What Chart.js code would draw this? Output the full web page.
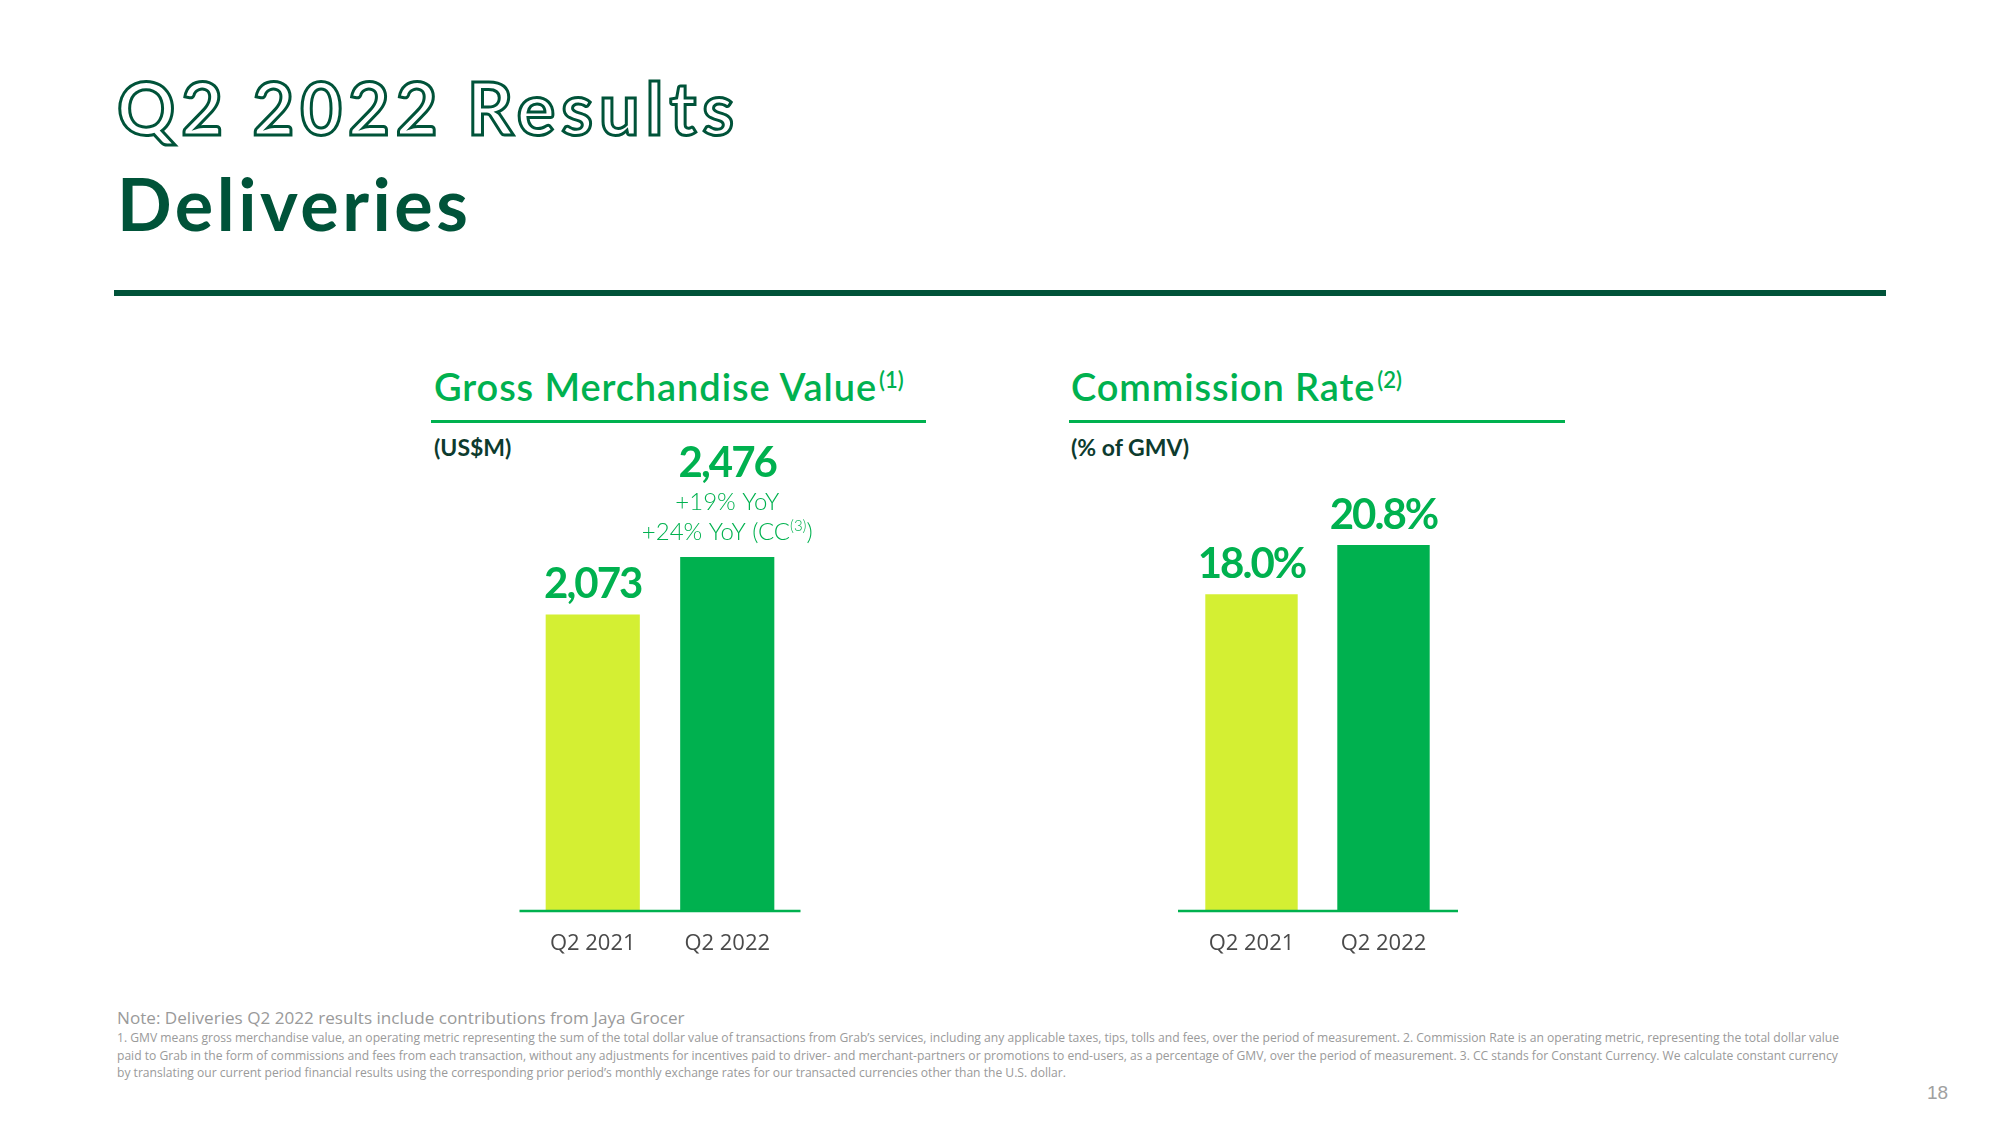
<!DOCTYPE html>
<html>
<head>
<meta charset="utf-8">
<script src="https://cdn.jsdelivr.net/npm/chart.js@4.4.1/dist/chart.umd.min.js"></script>
<style>
  html, body { margin:0; padding:0; background:#fff; }
  body { width:2000px; height:1125px; position:relative; overflow:hidden; font-family: Lato, "Open Sans", sans-serif; }
  .abs { position:absolute; white-space:nowrap; line-height:1; }
  #t1 { left:117px; top:71px; font-size:72px; font-weight:700; color:#fff; -webkit-text-stroke:3px #005339; letter-spacing:6px; }
  #t2 { left:117px; top:167px; font-size:72px; font-weight:700; color:#005339; letter-spacing:3.5px; }
  #rule { position:absolute; left:114px; top:290px; width:1772px; height:6px; background:#005339; }
  .sec { font-size:38px; font-weight:600; color:#00B14F; letter-spacing:0.9px; }
  .sec sup { font-size:22px; vertical-align:0; position:relative; top:-13px; margin-left:2px; letter-spacing:0; }
  .secline { position:absolute; height:3px; background:#00B14F; }
  .unit { font-size:23px; font-weight:700; color:#0D3B2E; }
  canvas { position:absolute; }
  .note { font-family:"Liberation Sans Narrow", "Open Sans", sans-serif; color:#9A9A9A; }
  #note0 { left:117px; top:1009px; font-size:19px; }
  .fn { left:117px; font-size:13px; }
  #pg { left:1927px; top:1083px; font-family:"Liberation Sans Narrow", sans-serif; font-size:19px; color:#A0A0A0; }
</style>
</head>
<body>
<div class="abs" id="t1">Q2 2022 Results</div>
<div class="abs" id="t2">Deliveries</div>
<div id="rule"></div>

<div class="abs sec" id="s1" style="left:434px; top:367px;">Gross Merchandise Value<sup>(1)</sup></div>
<div class="secline" style="left:431px; top:420px; width:495px;"></div>
<div class="abs unit" style="left:434px; top:436px;">(US$M)</div>

<div class="abs sec" id="s2" style="left:1071px; top:367px;">Commission Rate<sup>(2)</sup></div>
<div class="secline" style="left:1069px; top:420px; width:496px;"></div>
<div class="abs unit" style="left:1071px; top:436px;">(% of GMV)</div>

<canvas id="c1" width="320" height="540" style="left:500px; top:430px;"></canvas>
<canvas id="c2" width="310" height="540" style="left:1160px; top:430px;"></canvas>

<div class="abs note" id="note0" data-fit="568">Note: Deliveries Q2 2022 results include contributions from Jaya Grocer</div>
<div class="abs note fn" id="fn1" style="top:1032px;" data-fit="1723">1. GMV means gross merchandise value, an operating metric representing the sum of the total dollar value of transactions from Grab’s services, including any applicable taxes, tips, tolls and fees, over the period of measurement. 2. Commission Rate is an operating metric, representing the total dollar value</div>
<div class="abs note fn" id="fn2" style="top:1050px;" data-fit="1723">paid to Grab in the form of commissions and fees from each transaction, without any adjustments for incentives paid to driver- and merchant-partners or promotions to end-users, as a percentage of GMV, over the period of measurement. 3. CC stands for Constant Currency. We calculate constant currency</div>
<div class="abs note fn" id="fn3" style="top:1067px;">by translating our current period financial results using the corresponding prior period’s monthly exchange rates for our transacted currencies other than the U.S. dollar.</div>
<div class="abs" id="pg">18</div>

<script>
// ---- Data ----
const categories = ['Q2 2021', 'Q2 2022'];
const gmvValues = [2073, 2476];
const gmvLabels = ['2,073', '2,476'];
const gmvNotes = [
  [],
  [
    [{t:'+19% YoY'}],
    [{t:'+24% YoY (CC'}, {t:'(3)', sup:true}, {t:')'}]
  ]
];
const rateValues = [18.0, 20.8];
const rateLabels = ['18.0%', '20.8%'];
const rateNotes = [[], []];
const barColors = ['#D4EF33', '#00B14F'];

// ---- Plugins ----
const baseLine = {
  id: 'baseLine',
  afterDatasetsDraw(chart, args, o) {
    const ctx = chart.ctx, a = chart.chartArea;
    const y = chart.scales.y.getPixelForValue(0);
    ctx.save();
    ctx.strokeStyle = o.color; ctx.lineWidth = o.width;
    ctx.beginPath();
    ctx.moveTo(a.left - o.extL, y); ctx.lineTo(a.right + o.extR, y);
    ctx.stroke();
    ctx.restore();
  }
};

function drawRich(ctx, parts, cx, cy, font, supFont, color) {
  let total = 0;
  const widths = parts.map(p => { ctx.font = p.sup ? supFont : font; const w = ctx.measureText(p.t).width; total += w; return w; });
  let x = cx - total / 2;
  ctx.fillStyle = color; ctx.textAlign = 'left'; ctx.textBaseline = 'middle';
  parts.forEach((p, i) => {
    ctx.font = p.sup ? supFont : font;
    ctx.fillText(p.t, x, p.sup ? cy - 6 : cy);
    x += widths[i];
  });
}

const valueLabels = {
  id: 'valueLabels',
  afterDatasetsDraw(chart, args, o) {
    const ctx = chart.ctx;
    const meta = chart.getDatasetMeta(0);
    ctx.save();
    meta.data.forEach((el, i) => {
      const notes = (o.notes[i] || []).slice().reverse();
      let y = el.y - (notes.length ? o.noteGap : o.gap);
      notes.forEach(parts => {
        drawRich(ctx, parts, el.x, y, o.noteFont, o.supFont, o.color);
        y -= o.noteStep;
      });
      if (notes.length) y -= o.mainExtra;
      ctx.font = o.font; ctx.fillStyle = o.color;
      if ('letterSpacing' in ctx) ctx.letterSpacing = o.spacing;
      ctx.textAlign = 'center'; ctx.textBaseline = 'middle';
      ctx.fillText(o.labels[i], el.x, y);
      if ('letterSpacing' in ctx) ctx.letterSpacing = '0px';
    });
    ctx.restore();
  }
};

function makeChart(id, values, labels, notes, yMax, padL, padR, ext) {
  return new Chart(document.getElementById(id), {
    type: 'bar',
    data: {
      labels: categories,
      datasets: [{ data: values, backgroundColor: barColors, borderWidth: 0,
                   categoryPercentage: 1, barPercentage: 0.7 }]
    },
    options: {
      responsive: false, animation: false, devicePixelRatio: 1,
      layout: { padding: { left: padL, right: padR, top: 0, bottom: 0 } },
      plugins: {
        legend: { display: false }, tooltip: { enabled: false },
        baseLine: { color: '#00B14F', width: 2.5, extL: ext[0], extR: ext[1] },
        valueLabels: {
          labels: labels, notes: notes, color: '#00B14F',
          font: '700 42px Lato', noteFont: '300 24px Lato', supFont: '300 15px Lato',
          spacing: '-2px',
          gap: 30, noteGap: 25, noteStep: 30, mainExtra: 9
        }
      },
      scales: {
        x: {
          grid: { display: false, drawTicks: false }, border: { display: false },
          ticks: { color: '#4A4A4A', font: { family: 'Open Sans', size: 22 }, padding: 20 },
          afterFit: s => { s.height = 59; }
        },
        y: { display: false, min: 0, max: yMax }
      }
    },
    plugins: [baseLine, valueLabels]
  });
}

function fit() {
  document.querySelectorAll('[data-fit]').forEach(el => {
    const target = +el.dataset.fit;
    const fs = parseFloat(getComputedStyle(el).fontSize);
    const w = el.getBoundingClientRect().width;
    if (w > 0) el.style.fontSize = (fs * target / w) + 'px';
  });
  const fn3 = document.getElementById('fn3');
  fn3.style.fontSize = document.getElementById('fn2').style.fontSize;
}

(document.fonts ? document.fonts.ready : Promise.resolve()).then(() => {
  fit();
  makeChart('c1', gmvValues, gmvLabels, gmvNotes, 3364, 25.5, 25.5, [6, 6]);
  makeChart('c2', rateValues, rateLabels, rateNotes, 27.34, 25.5, 20.5, [7.5, 8.5]);
});
</script>
</body>
</html>
